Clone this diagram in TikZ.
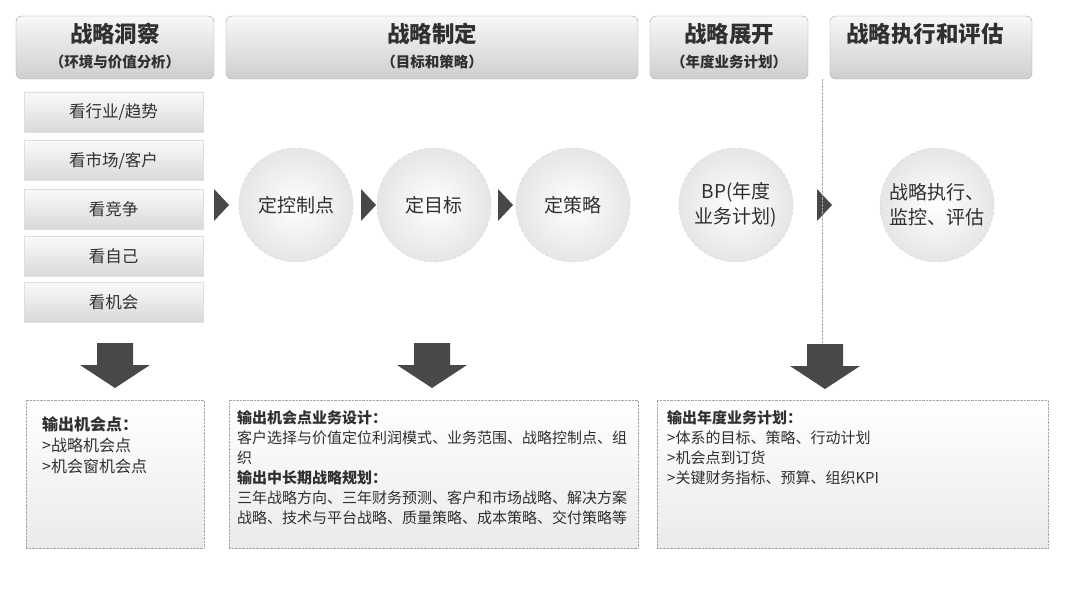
\documentclass[tikz,border=0pt]{standalone}
\usepackage{fontspec}
\setmainfont{Noto Sans CJK SC}
\usetikzlibrary{positioning}
\definecolor{darkarrow}{HTML}{484848}
\definecolor{txtgray}{HTML}{303030}
\tikzset{
  header/.style={draw=gray!70, rounded corners=6pt, top color=gray!6, bottom color=gray!38, minimum height=63pt, inner sep=0pt},
  htitle/.style={inner sep=0pt, font=\fontsize{22.5}{26}\selectfont\bfseries, text=txtgray},
  hsub/.style={inner sep=0pt, font=\fontsize{14.5}{16}\selectfont\bfseries, text=txtgray},
  listbox/.style={draw=gray!25, top color=gray!4, bottom color=gray!30, minimum width=179pt, minimum height=40pt, inner sep=0pt, font=\fontsize{16.5}{19}\selectfont, text=txtgray},
  stepcircle/.style={circle, draw=gray!35, dashed, inner color=white, outer color=gray!20, minimum size=114pt, inner sep=0pt, align=center, font=\fontsize{19}{25}\selectfont, text=txtgray},
  outbox/.style={draw=gray!70, densely dotted, top color=white, bottom color=gray!16, inner sep=0pt},
  outtext/.style={anchor=north west, align=left, inner sep=0pt, font=\fontsize{15}{20}\selectfont, text=txtgray},
}
% small right-pointing triangle
\newcommand\rtri[2]{\fill[darkarrow] (#1-7,#2-16) -- (#1+8,#2) -- (#1-7,#2+16) -- cycle;}
% big down arrow
\newcommand\dnarrow[2]{\fill[darkarrow] (#1-18,#2) -- (#1+18,#2) -- (#1+18,#2+22) -- (#1+35,#2+22) -- (#1,#2+45) -- (#1-35,#2+22) -- (#1-18,#2+22) -- cycle;}

\begin{document}
\begin{tikzpicture}[x=1pt,y=-1pt]
  \useasboundingbox[fill=white] (0,0) rectangle (1080,591);

  % headers
  \node[header, minimum width=198pt] (hdInsight) at (115,47.5) {};
  \node[htitle] (tInsight) at (115,34) {战略洞察};
  \node[hsub] (sInsight) at (115,62) {（环境与价值分析）};

  \node[header, minimum width=412pt] (hdPlan) at (432,47.5) {};
  \node[htitle] (tPlan) at (432,34) {战略制定};
  \node[hsub] (sPlan) at (432,62) {（目标和策略）};

  \node[header, minimum width=158pt] (hdDeploy) at (729,47.5) {};
  \node[htitle] (tDeploy) at (729,34) {战略展开};
  \node[hsub] (sDeploy) at (729,62) {（年度业务计划）};

  \node[header, minimum width=202pt] (hdExec) at (931,47.5) {};
  \node[htitle] (tExec) at (925,34) {战略执行和评估};

  % look-at list
  \node[listbox] (lk1) at (113.5,112) {看行业/趋势};
  \node[listbox] (lk2) at (113.5,160.5) {看市场/客户};
  \node[listbox] (lk3) at (113.5,209) {看竞争};
  \node[listbox] (lk4) at (113.5,256.5) {看自己};
  \node[listbox] (lk5) at (113.5,302) {看机会};

  % steps
  \node[stepcircle] (cCtrl) at (296,205) {定控制点};
  \node[stepcircle] (cGoal) at (434,205) {定目标};
  \node[stepcircle] (cStrat) at (573,205) {定策略};
  \node[stepcircle] (cBP) at (736,205) {BP(年度\\业务计划)};
  \node[stepcircle] (cExec) at (937,205) {战略执行、\\监控、评估};

  \rtri{221}{205}
  \rtri{368}{205}
  \rtri{505}{205}
  \rtri{824}{205}

  % divider
  \coordinate (dvTop) at (822,79);
  \coordinate (dvBot) at (822,345);
  \draw[gray!70, densely dotted] (dvTop) -- (dvBot);

  \dnarrow{115}{343}
  \dnarrow{432}{343}
  \dnarrow{825}{344}

  % outputs
  \node[outbox, minimum width=178pt, minimum height=148pt] (oInsight) at (115,474) {};
  \node[outtext, font=\fontsize{16}{21}\selectfont] (xInsight) at (42,416)
    {\textbf{输出机会点：}\\{>}战略机会点\\{>}机会窗机会点};

  \node[outbox, minimum width=409pt, minimum height=148pt] (oPlan) at (433.5,474) {};
  \node[outtext] (xPlan) at (237,410)
    {\textbf{输出机会点业务设计：}\\客户选择与价值定位利润模式、业务范围、战略控制点、组\\织\\\textbf{输出中长期战略规划：}\\三年战略方向、三年财务预测、客户和市场战略、解决方案\\战略、技术与平台战略、质量策略、成本策略、交付策略等};

  \node[outbox, minimum width=391pt, minimum height=148pt] (oDeploy) at (852.5,474) {};
  \node[outtext] (xDeploy) at (667,410)
    {\textbf{输出年度业务计划：}\\{>}体系的目标、策略、行动计划\\{>}机会点到订货\\{>}关键财务指标、预算、组织KPI};
\end{tikzpicture}
\end{document}
